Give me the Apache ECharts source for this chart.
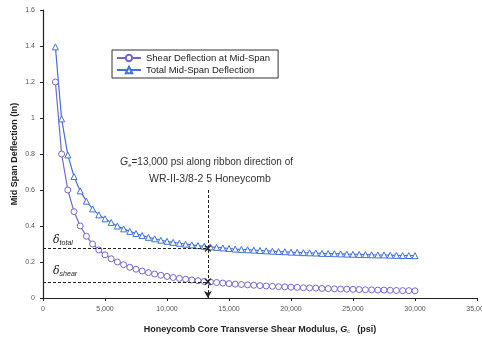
<!DOCTYPE html>
<html>
<head>
<meta charset="utf-8">
<script src="https://cdn.jsdelivr.net/npm/echarts@6/dist/echarts.min.js"></script>
<style>
  html, body { margin: 0; padding: 0; background: #fff; }
  #chart { width: 482px; height: 343px; }
</style>
</head>
<body>
<div id="chart"></div>
<script>
/* 剪切模量 Gc (psi) */
const modulus = [1000, 1500, 2000, 2500, 3000, 3500, 4000, 4500, 5000, 5500,
  6000, 6500, 7000, 7500, 8000, 8500, 9000, 9500, 10000, 10500,
  11000, 11500, 12000, 12500, 13000, 13500, 14000, 14500, 15000, 15500,
  16000, 16500, 17000, 17500, 18000, 18500, 19000, 19500, 20000, 20500,
  21000, 21500, 22000, 22500, 23000, 23500, 24000, 24500, 25000, 25500,
  26000, 26500, 27000, 27500, 28000, 28500, 29000, 29500, 30000];

/* 跨中剪切挠度 (in) */
const shearDefl = [1.2, 0.8, 0.6, 0.48, 0.4, 0.343, 0.3, 0.267, 0.24, 0.218,
  0.2, 0.185, 0.171, 0.16, 0.15, 0.141, 0.133, 0.126, 0.12, 0.114,
  0.109, 0.104, 0.1, 0.096, 0.092, 0.089, 0.086, 0.083, 0.08, 0.077,
  0.075, 0.073, 0.071, 0.069, 0.067, 0.065, 0.063, 0.062, 0.06, 0.059,
  0.057, 0.056, 0.055, 0.053, 0.052, 0.051, 0.05, 0.049, 0.048, 0.047,
  0.046, 0.045, 0.044, 0.044, 0.043, 0.042, 0.041, 0.041, 0.04];

/* 跨中总挠度 (in) */
const totalDefl = [1.395, 0.995, 0.795, 0.675, 0.595, 0.538, 0.495, 0.462, 0.44, 0.42,
  0.4, 0.384, 0.37, 0.358, 0.347, 0.337, 0.329, 0.321, 0.315, 0.309,
  0.304, 0.299, 0.295, 0.291, 0.287, 0.284, 0.281, 0.278, 0.275, 0.272,
  0.27, 0.268, 0.266, 0.264, 0.262, 0.26, 0.258, 0.257, 0.255, 0.254,
  0.252, 0.251, 0.25, 0.248, 0.247, 0.246, 0.245, 0.244, 0.243, 0.242,
  0.241, 0.24, 0.239, 0.239, 0.238, 0.237, 0.236, 0.236, 0.235];

const seriesNames = ['Shear Deflection at Mid-Span', 'Total Mid-Span Deflection'];

/* 参考点：Ge 与对应挠度 */
const refG = 13300;
const refTotal = 0.275;
const refShear = 0.09;
const refArrowTop = 0.6;

const narrow = "'Liberation Sans Narrow', 'Liberation Sans', Arial, sans-serif";
const shearColor = '#7168cf';
const totalColor = '#4271d8';
const pair = (xs, ys) => xs.map((x, i) => [x, ys[i]]);
const dashed = { color: '#222', type: [3, 2], width: 1 };

const chart = echarts.init(document.getElementById('chart'), null, { renderer: 'canvas' });
chart.setOption({
  animation: false,
  grid: { left: 43, right: 5, top: 10, bottom: 45, outerBoundsMode: 'none', containLabel: false },
  legend: {
    left: 112, top: 50, orient: 'vertical', itemGap: 2,
    itemWidth: 24, itemHeight: 8,
    padding: [3, 8, 3, 4],
    borderColor: '#333', borderWidth: 1,
    textStyle: { fontFamily: narrow, fontSize: 9.5, color: '#222' },
    data: seriesNames,
  },
  xAxis: {
    type: 'value', min: 0, max: 35000, interval: 5000,
    axisLine: { lineStyle: { color: '#222', width: 1.2 } },
    axisTick: { show: true, length: 3, lineStyle: { color: '#222' } },
    splitLine: { show: false },
    axisLabel: {
      fontFamily: narrow, fontSize: 7, color: '#555', margin: 8,
      formatter: v => v.toLocaleString('en-US'),
    },
    name: '{b|Honeycomb Core Transverse Shear Modulus, }{i|G}{s|c}{b|   (psi)}',
    nameLocation: 'middle', nameGap: 27, nameMoveOverlap: false,
    nameTextStyle: {
      rich: {
        b: { fontFamily: 'Liberation Sans, Arial', fontWeight: 'bold', fontSize: 9, color: '#222' },
        i: { fontFamily: 'Liberation Sans, Arial', fontWeight: 'bold', fontStyle: 'italic', fontSize: 9, color: '#222' },
        s: { fontFamily: 'Liberation Sans, Arial', fontSize: 5, color: '#222', verticalAlign: 'bottom', padding: [4, 0, 0, 0] },
      },
    },
  },
  yAxis: {
    type: 'value', min: 0, max: 1.6, interval: 0.2,
    axisLine: { show: true, lineStyle: { color: '#222', width: 1.2 } },
    axisTick: { show: true, length: 3, lineStyle: { color: '#222' } },
    splitLine: { show: false },
    axisLabel: {
      fontFamily: narrow, fontSize: 7, color: '#555', margin: 8,
      formatter: v => String(Math.round(v * 10) / 10),
    },
    name: 'Mid Span Deflection (In)',
    nameLocation: 'middle', nameGap: 24, nameMoveOverlap: false,
    nameTextStyle: { fontFamily: 'Liberation Sans, Arial', fontWeight: 'bold', fontSize: 9, color: '#222' },
  },
  series: [
    {
      name: seriesNames[0], type: 'line', data: pair(modulus, shearDefl),
      symbol: 'circle', symbolSize: 6, showAllSymbol: true,
      lineStyle: { color: shearColor, width: 1.2 },
      itemStyle: { color: '#fff', borderColor: shearColor, borderWidth: 1 },
      z: 3,
    },
    {
      name: seriesNames[1], type: 'line', data: pair(modulus, totalDefl),
      symbol: 'triangle', symbolSize: 6, showAllSymbol: true,
      lineStyle: { color: totalColor, width: 1.2 },
      itemStyle: { color: '#fff', borderColor: totalColor, borderWidth: 1 },
      z: 3,
    },
    {
      name: 'ref', type: 'scatter',
      data: [[refG, refTotal], [refG, refShear]],
      symbol: 'path://M0,0L10,10M10,0L0,10', symbolSize: 6,
      itemStyle: { color: 'none', borderColor: '#111', borderWidth: 1.5 },
      z: 5,
      markLine: {
        silent: true, symbol: ['none', 'none'], label: { show: false },
        lineStyle: dashed,
        data: [
          [{ coord: [0, refTotal] }, { coord: [refG, refTotal] }],
          [{ coord: [0, refShear] }, { coord: [refG, refShear] }],
          [{ coord: [refG, refArrowTop], symbol: 'none' },
           { coord: [refG, 0], symbol: 'arrow', symbolSize: [6, 7] }],
        ],
      },
    },
  ],
  graphic: [
    {
      type: 'text', left: 120, top: 157,
      style: {
        text: '{i|G}{s|e}{t|=13,000 psi along ribbon direction of}',
        rich: {
          i: { fontFamily: narrow, fontStyle: 'italic', fontSize: 10.5, fill: '#333' },
          s: { fontFamily: narrow, fontSize: 6, fill: '#333', padding: [5, 0, 0, 0] },
          t: { fontFamily: narrow, fontSize: 10, fill: '#333' },
        },
      },
    },
    {
      type: 'text', left: 149, top: 174,
      style: { text: 'WR-II-3/8-2 5 Honeycomb', fontFamily: narrow, fontSize: 10.5, fill: '#333' },
    },
    {
      type: 'text', left: 53, top: 235,
      style: {
        text: '{d|δ}{s|total}',
        rich: {
          d: { fontFamily: 'DejaVu Serif', fontStyle: 'italic', fontSize: 11, fill: '#222' },
          s: { fontFamily: narrow, fontStyle: 'italic', fontSize: 7, fill: '#222', padding: [6, 0, 0, 0] },
        },
      },
    },
    {
      type: 'text', left: 53, top: 266,
      style: {
        text: '{d|δ}{s|shear}',
        rich: {
          d: { fontFamily: 'DejaVu Serif', fontStyle: 'italic', fontSize: 11, fill: '#222' },
          s: { fontFamily: narrow, fontStyle: 'italic', fontSize: 7, fill: '#222', padding: [6, 0, 0, 0] },
        },
      },
    },
  ],
});
</script>
</body>
</html>
